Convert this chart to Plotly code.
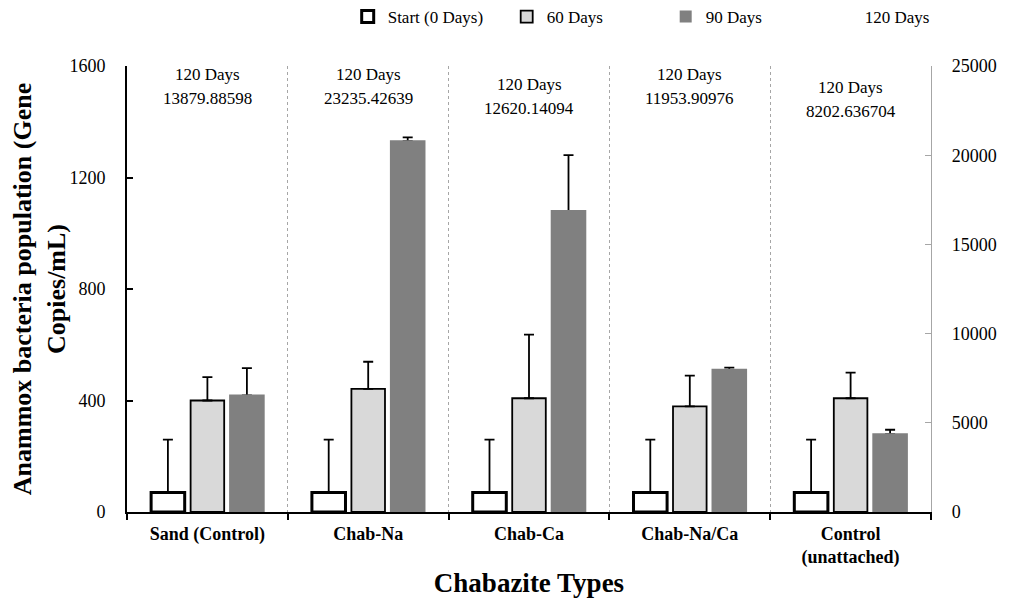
import plotly.graph_objects as go

categories = ["Sand (Control)", "Chab-Na", "Chab-Ca", "Chab-Na/Ca", "Control<br>(unattached)"]
start_vals = [70, 70, 70, 70, 70]
start_err = [190, 190, 190, 190, 190]
d60_vals = [400, 442, 408, 379, 408]
d60_err = [84, 97, 228, 110, 92]
d90_vals = [418, 1330, 1080, 510, 279]
d90_err = [98, 14, 200, 8, 16]
d120_vals = [13879.88598, 23235.42639, 12620.14094, 11953.90976, 8202.636704]
left_ticks = [0, 400, 800, 1200, 1600]
right_ticks = [0, 5000, 10000, 15000, 20000, 25000]

# label positions (style, not data)
label_y = [1525, 1525, 1490, 1525, 1480]

FONT = "Liberation Serif, Times New Roman, serif"

fig = go.Figure()

def err(arr):
    return dict(type="data", array=arr, arrayminus=[0] * len(arr), symmetric=False,
                color="black", thickness=1.8, width=5)

fig.add_trace(go.Bar(name="Start (0 Days)", x=categories, y=start_vals, offsetgroup="s",
                     marker=dict(color="white", line=dict(color="black", width=3)),
                     error_y=err(start_err)))
fig.add_trace(go.Bar(name="60 Days", x=categories, y=d60_vals, offsetgroup="d60",
                     marker=dict(color="#d9d9d9", line=dict(color="black", width=1.8)),
                     error_y=err(d60_err)))
fig.add_trace(go.Bar(name="90 Days", x=categories, y=d90_vals, offsetgroup="d90",
                     marker=dict(color="#808080", line=dict(color="#808080", width=0)),
                     error_y=err(d90_err)))
# same 90-day bars again, without error bars, so the error-bar foot is hidden
fig.add_trace(go.Bar(name="90 Days", x=categories, y=d90_vals, offsetgroup="d90",
                     showlegend=False, hoverinfo="skip",
                     marker=dict(color="#808080", line=dict(color="#808080", width=2))))
fig.add_trace(go.Scatter(name="120 Days", x=categories, y=d120_vals, yaxis="y2",
                         mode="markers", marker=dict(color="rgba(0,0,0,0)", size=1),
                         hoverinfo="skip"))

for c, v, ly in zip(categories, d120_vals, label_y):
    fig.add_annotation(x=c, y=ly, xref="x", yref="y", yshift=12, text="120 Days",
                       showarrow=False, font=dict(family=FONT, size=17, color="black"))
    fig.add_annotation(x=c, y=ly, xref="x", yref="y", yshift=-12, text=f"{v:.10g}",
                       showarrow=False, font=dict(family=FONT, size=17, color="black"))

fig.update_layout(
    width=1011, height=602,
    paper_bgcolor="white", plot_bgcolor="white",
    margin=dict(l=119, r=88, t=58, b=98, autoexpand=False),
    barmode="group", bargap=0.263, bargroupgap=0.15,
    font=dict(family=FONT, size=17, color="black"),
    showlegend=True,
    legend=dict(orientation="h", x=0.336, xanchor="left", xref="container",
                y=0.985, yanchor="middle", yref="container",
                font=dict(family=FONT, size=17, color="black"), traceorder="normal",
                itemwidth=30, entrywidth=114, entrywidthmode="pixels"),
    xaxis=dict(type="category", tickson="boundaries", ticks="outside", ticklen=6,
               tickcolor="black", tickwidth=1.5, showline=True, linecolor="black", linewidth=1.8,
               showgrid=True, gridcolor="#a6a6a6", griddash="dot", gridwidth=1, automargin=False,
               ticklabelstandoff=4,
               tickfont=dict(family=FONT, size=18, color="black", weight="bold"),
               title=dict(text="<b>Chabazite Types</b>", font=dict(family=FONT, size=27), standoff=6)),
    yaxis=dict(range=[0, 1600], tickvals=left_ticks, ticks="inside", ticklen=6,
               tickcolor="black", tickwidth=1.5, showline=True, linecolor="black", linewidth=1.8,
               showgrid=False, zeroline=False, tickfont=dict(family=FONT, size=18), automargin=False,
               ticklabelstandoff=16,
               title=dict(text="<b>Anammox bacteria population (Gene<br>Copies/mL)</b>",
                          font=dict(family=FONT, size=26), standoff=14)),
    yaxis2=dict(range=[0, 25000], tickvals=right_ticks, tickformat="d", overlaying="y", side="right",
                ticks="inside", ticklen=6, tickcolor="#a6a6a6", showline=True, automargin=False,
                linecolor="#a6a6a6", linewidth=1.2, showgrid=False, zeroline=False,
                ticklabelstandoff=16, tickfont=dict(family=FONT, size=18)),
)

fig.write_html("out.html")
